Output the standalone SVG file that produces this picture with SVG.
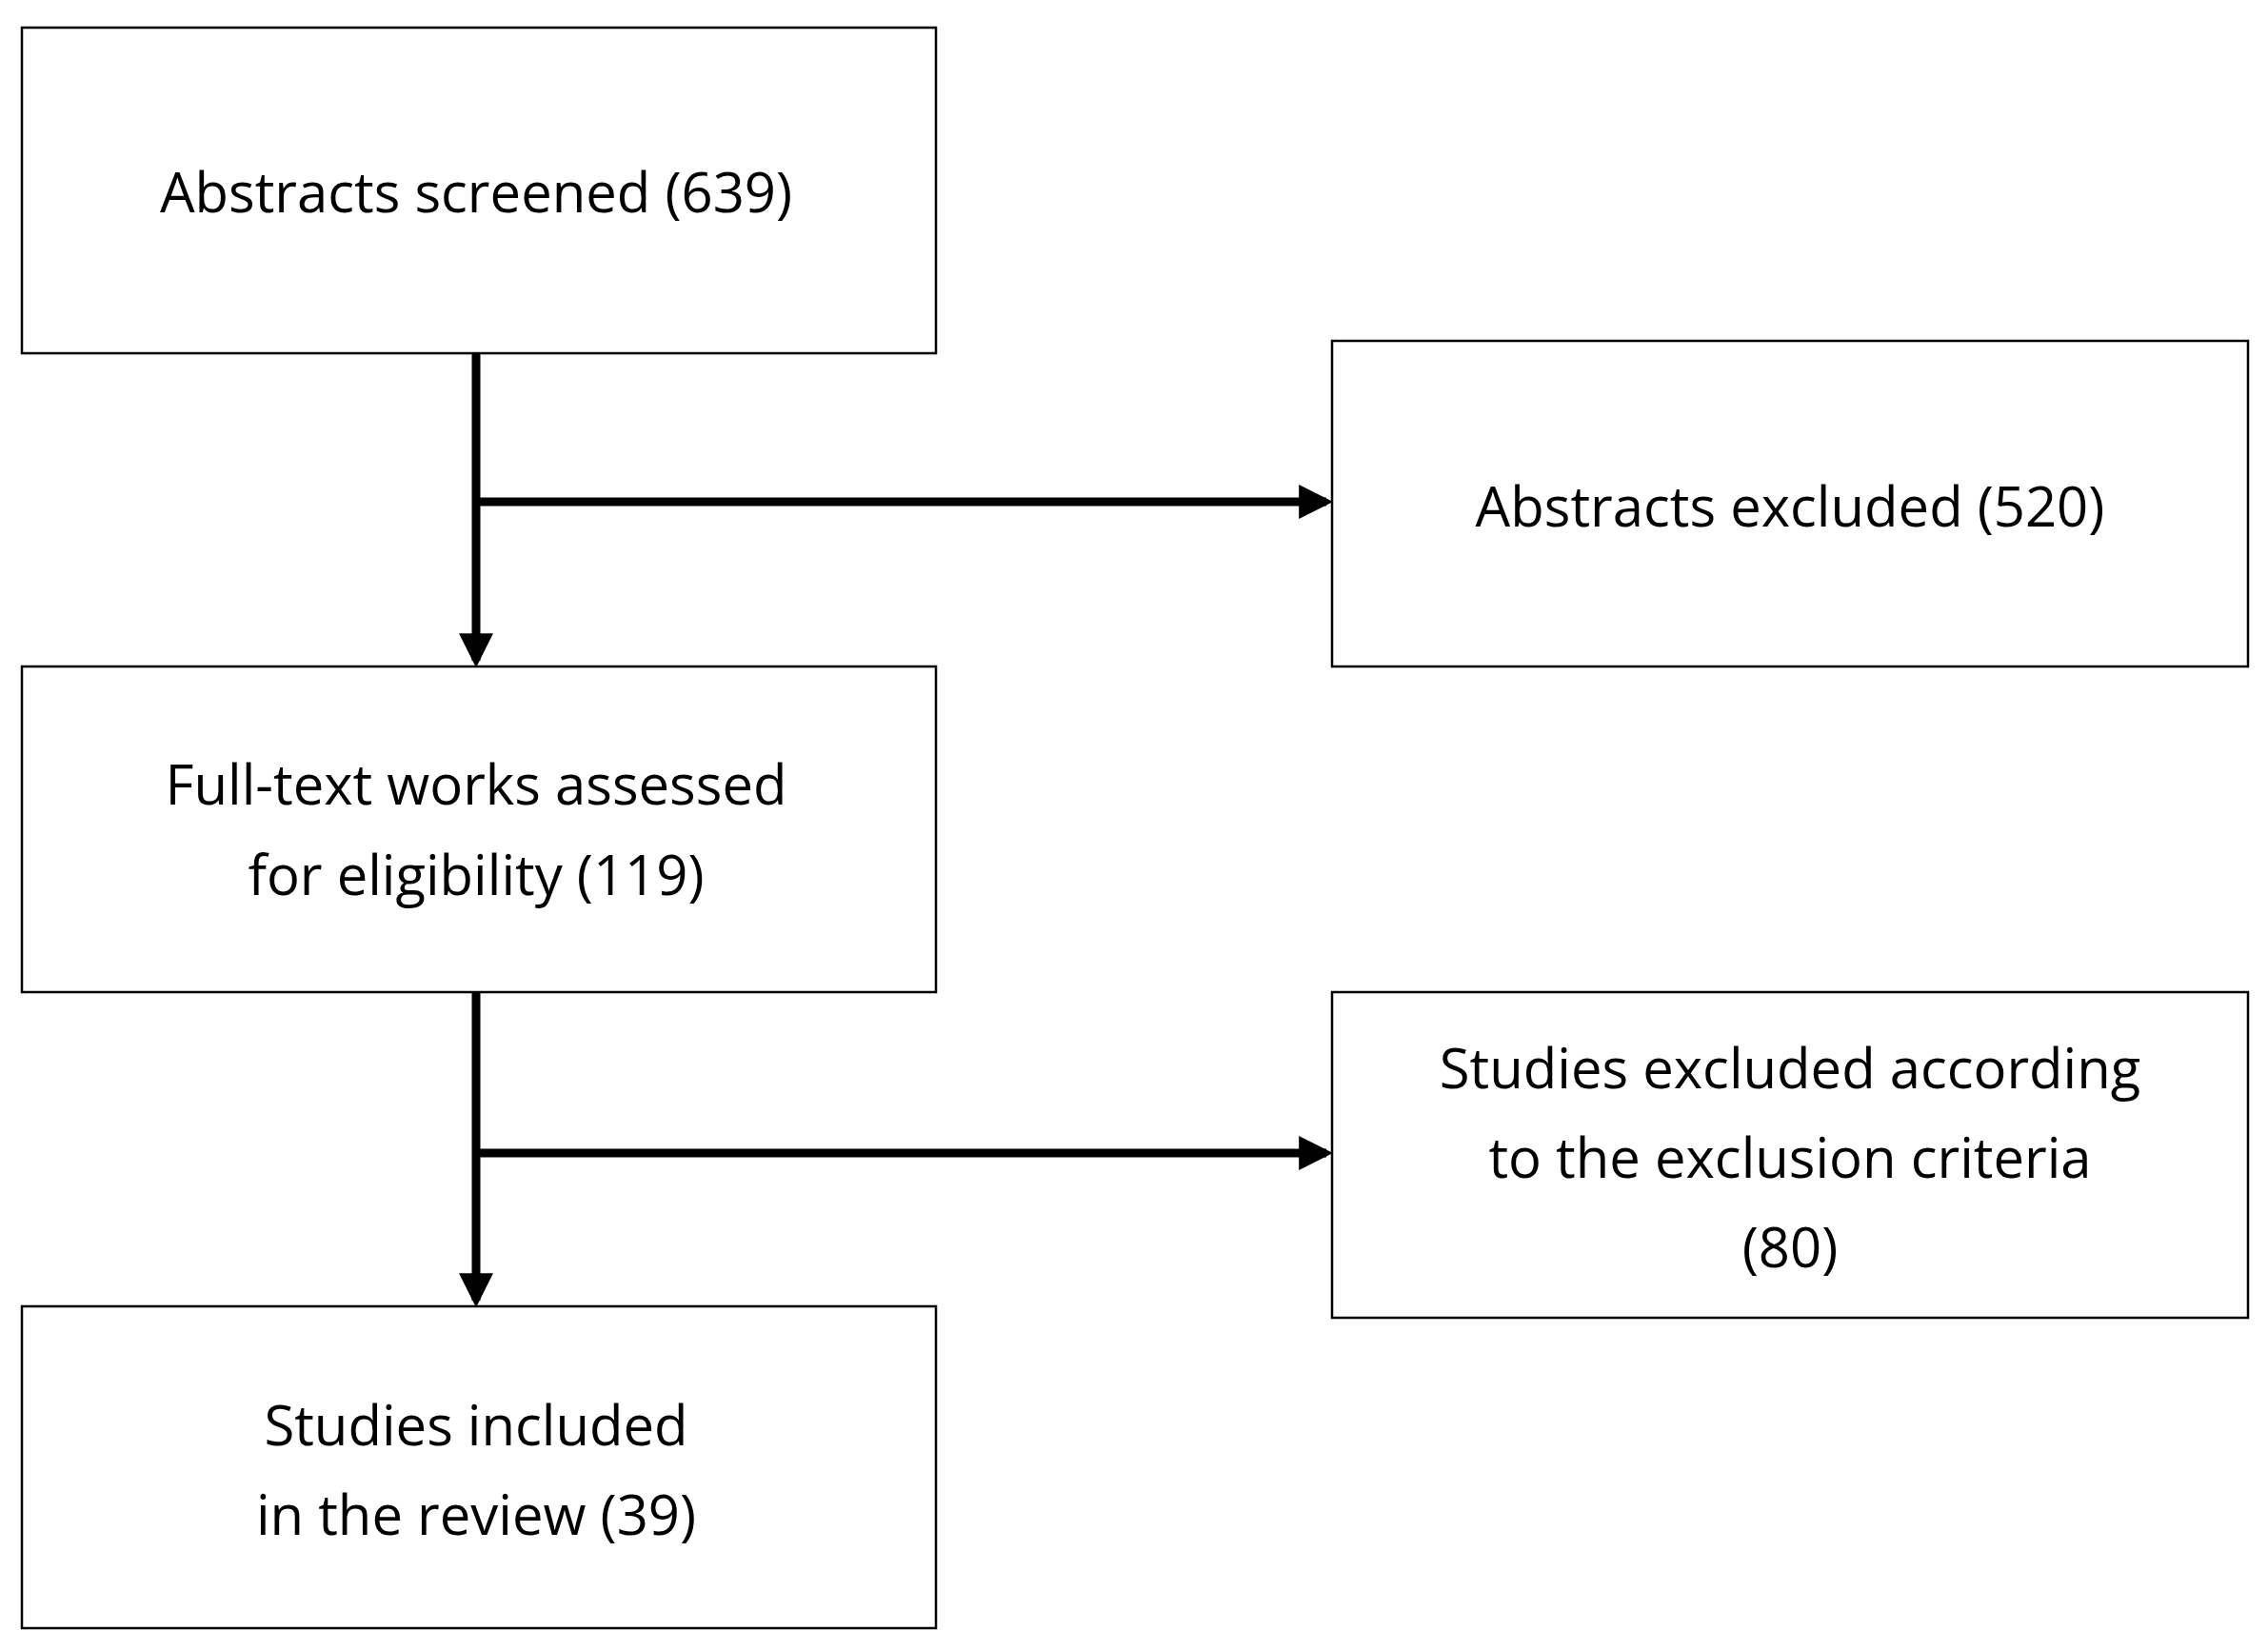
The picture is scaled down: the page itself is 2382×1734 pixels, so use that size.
<svg xmlns="http://www.w3.org/2000/svg" width="2382" height="1734" viewBox="0 0 2382 1734">
<style>
.box{fill:#fff;stroke:#000;stroke-width:2.5}
.t{font-family:"Open Sans","Liberation Sans",sans-serif;font-size:58px;text-anchor:middle;dominant-baseline:central;fill:#000}
.c{stroke:#000;stroke-width:9;fill:none}
</style>
<defs><marker id="a" markerWidth="4" markerHeight="4" refX="3.2" refY="2" orient="auto" markerUnits="strokeWidth"><path d="M0,0L4,2L0,4z" fill="#000"/></marker></defs>
<rect width="2382" height="1734" fill="#fff"/>
<g id="connectors">
<path class="c" d="M500,371V694" marker-end="url(#a)"/>
<path class="c" d="M500,527H1393" marker-end="url(#a)"/>
<path class="c" d="M500,1042V1366" marker-end="url(#a)"/>
<path class="c" d="M500,1211H1393" marker-end="url(#a)"/>
</g>
<g id="n1"><rect class="box" x="23" y="29" width="960" height="342"/><text class="t" x="500" y="200">Abstracts screened (639)</text></g>
<g id="n2"><rect class="box" x="1399" y="358" width="962" height="342"/><text class="t" x="1880" y="530">Abstracts excluded (520)</text></g>
<g id="n3"><rect class="box" x="23" y="700" width="960" height="342"/><text class="t" x="500" y="822">Full-text works assessed</text><text class="t" x="500" y="917">for eligibility (119)</text></g>
<g id="n4"><rect class="box" x="1399" y="1042" width="962" height="342"/><text class="t" x="1880" y="1120">Studies excluded according</text><text class="t" x="1880" y="1214">to the exclusion criteria</text><text class="t" x="1880" y="1308">(80)</text></g>
<g id="n5"><rect class="box" x="23" y="1372" width="960" height="338"/><text class="t" x="500" y="1495">Studies included</text><text class="t" x="500" y="1589">in the review (39)</text></g>
</svg>
